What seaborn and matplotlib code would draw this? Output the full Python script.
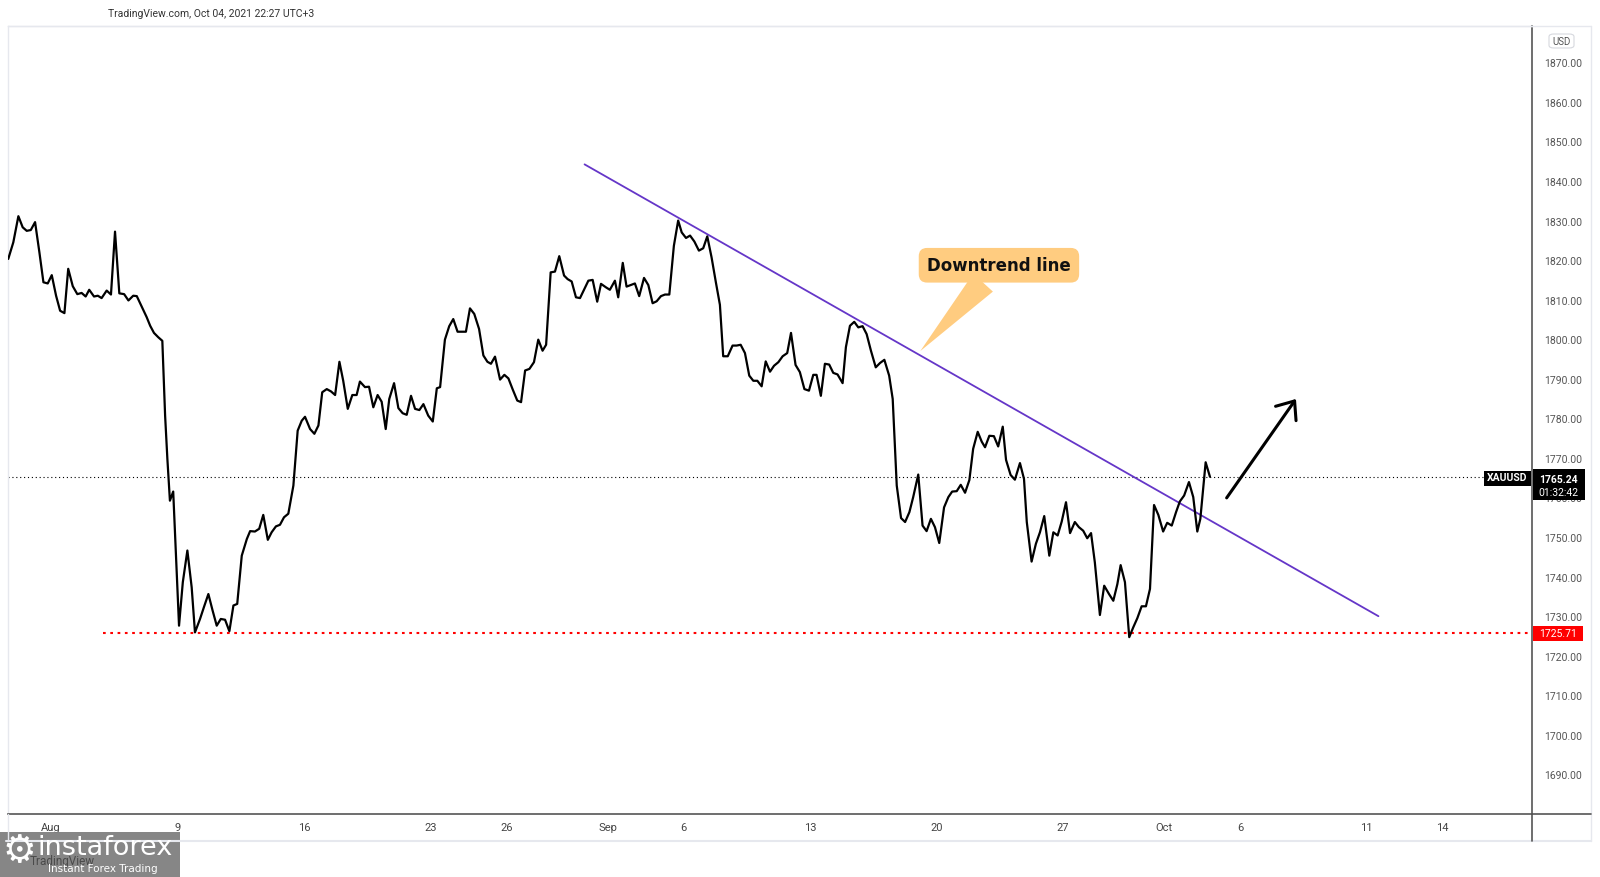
import matplotlib
matplotlib.use("Agg")
import matplotlib.pyplot as plt
import matplotlib.transforms as mtransforms
from matplotlib.patches import Rectangle, FancyBboxPatch
from matplotlib.lines import Line2D
import pandas as pd
import seaborn as sns

# ---------------- data ----------------
# x = trading days since Mon Aug 2 2021 (weekends removed), y = XAUUSD price
days = [-1.69, -1.49, -1.29, -1.12, -0.96, -0.80, -0.63, -0.46, -0.30, -0.13,
        0.03, 0.20, 0.36, 0.53, 0.68, 0.86, 1.04, 1.21, 1.37, 1.51,
        1.70, 1.85, 2.00, 2.20, 2.37, 2.53, 2.70, 2.89, 3.06, 3.25,
        3.39, 3.58, 3.78, 3.92, 4.07, 4.24, 4.40, 4.51, 4.60, 4.70,
        4.83, 5.06, 5.21, 5.39, 5.56, 5.69, 5.89, 6.05, 6.22, 6.38,
        6.55, 6.71, 6.88, 7.05, 7.21, 7.36, 7.54, 7.74, 7.87, 8.06,
        8.23, 8.39, 8.57, 8.72, 8.89, 9.05, 9.21, 9.38, 9.58, 9.75,
        9.91, 10.04, 10.24, 10.41, 10.57, 10.72, 10.90, 11.07, 11.23, 11.40,
        11.55, 11.73, 11.91, 12.08, 12.21, 12.41, 12.57, 12.74, 12.91, 13.07,
        13.23, 13.37, 13.56, 13.73, 13.90, 14.06, 14.23, 14.39, 14.56, 14.72,
        14.91, 15.09, 15.25, 15.38, 15.57, 15.74, 15.90, 16.07, 16.24, 16.40,
        16.56, 16.73, 16.92, 17.09, 17.25, 17.39, 17.55, 17.75, 17.92, 18.08,
        18.25, 18.43, 18.58, 18.74, 18.91, 19.09, 19.26, 19.43, 19.57, 19.75,
        19.92, 20.09, 20.28, 20.42, 20.58, 20.75, 20.91, 21.08, 21.24, 21.41,
        21.59, 21.74, 21.94, 22.09, 22.29, 22.42, 22.60, 22.75, 22.92, 23.08,
        23.25, 23.44, 23.61, 23.78, 23.94, 24.11, 24.27, 24.44, 24.62, 24.79,
        24.93, 25.10, 25.26, 25.43, 25.61, 25.78, 25.94, 26.11, 26.28, 26.44,
        26.57, 26.75, 26.94, 27.10, 27.26, 27.43, 27.60, 27.76, 27.92, 28.09,
        28.25, 28.42, 28.58, 28.75, 28.92, 29.10, 29.25, 29.43, 29.60, 29.78,
        29.96, 30.13, 30.26, 30.43, 30.59, 30.76, 30.92, 31.09, 31.29, 31.42,
        31.58, 31.75, 31.91, 32.08, 32.24, 32.41, 32.60, 32.77, 32.94, 33.13,
        33.27, 33.43, 33.60, 33.76, 33.93, 34.08, 34.28, 34.45, 34.61, 34.78,
        34.94, 35.11, 35.30, 35.47, 35.62, 35.80, 35.96, 36.13, 36.30, 36.45,
        36.63, 36.79, 36.92, 37.09, 37.27, 37.44, 37.62, 37.75, 37.93, 38.10,
        38.30, 38.46, 38.57, 38.76, 38.93, 39.09, 39.26, 39.46, 39.62, 39.79,
        39.95, 40.12, 40.28, 40.47, 40.63, 40.80, 40.96, 41.11, 41.26, 41.46,
        41.63, 41.82, 41.99, 42.15, 42.28, 42.45, 42.62, 42.78, 42.94, 43.11,
        43.28, 43.44, 43.60, 43.77, 43.96, 44.12, 44.30, 44.47, 44.62, 44.79,
        44.98, 45.15, 45.31, 45.43, 45.64, 45.81]
prices = [1820.3, 1824.5, 1831.1, 1828.3, 1827.4, 1827.6, 1829.6, 1822.0, 1814.4, 1814.1,
          1816.2, 1811.0, 1807.2, 1806.6, 1817.8, 1813.4, 1811.4, 1811.7, 1810.8, 1812.5,
          1810.8, 1811.0, 1810.4, 1812.3, 1811.3, 1827.2, 1811.6, 1811.4, 1809.8, 1811.0,
          1810.9, 1808.3, 1805.6, 1803.4, 1801.6, 1800.5, 1799.6, 1780.7, 1769.7, 1759.2,
          1761.5, 1727.6, 1738.6, 1746.6, 1737.3, 1725.9, 1729.3, 1732.4, 1735.6, 1731.6,
          1727.6, 1729.3, 1729.1, 1726.2, 1732.7, 1733.1, 1745.3, 1749.5, 1751.5, 1751.4,
          1752.1, 1755.6, 1749.3, 1751.2, 1752.7, 1753.1, 1755.0, 1755.9, 1763.0, 1776.9,
          1779.4, 1780.4, 1777.3, 1776.1, 1778.2, 1786.6, 1787.4, 1786.8, 1785.9, 1794.3,
          1789.5, 1782.4, 1785.9, 1785.9, 1789.3, 1787.9, 1788.0, 1782.8, 1785.9, 1784.2,
          1777.3, 1784.9, 1788.9, 1782.6, 1781.3, 1780.9, 1785.7, 1782.4, 1782.1, 1783.6,
          1780.7, 1779.2, 1787.6, 1787.9, 1799.9, 1803.3, 1805.1, 1801.9, 1801.9, 1801.9,
          1807.8, 1806.4, 1802.6, 1795.9, 1794.3, 1793.8, 1795.6, 1789.8, 1791.0, 1790.1,
          1787.3, 1784.5, 1784.1, 1792.1, 1792.5, 1794.2, 1799.9, 1797.1, 1798.6, 1816.9,
          1817.1, 1821.0, 1816.1, 1815.2, 1814.6, 1810.6, 1810.4, 1812.7, 1814.8, 1815.0,
          1809.5, 1814.0, 1813.1, 1812.5, 1814.8, 1810.6, 1819.3, 1813.3, 1813.7, 1814.1,
          1810.9, 1815.5, 1813.7, 1809.1, 1809.6, 1810.9, 1811.3, 1811.3, 1823.6, 1830.0,
          1827.0, 1825.6, 1826.2, 1824.7, 1822.4, 1823.0, 1826.0, 1820.7, 1814.4, 1808.7,
          1795.7, 1795.7, 1798.4, 1798.4, 1798.6, 1796.5, 1790.8, 1789.5, 1789.5, 1788.1,
          1794.4, 1791.8, 1793.3, 1794.2, 1795.7, 1796.5, 1801.6, 1793.5, 1791.7, 1787.4,
          1787.0, 1791.0, 1791.0, 1785.7, 1793.8, 1793.6, 1791.5, 1791.1, 1788.9, 1798.0,
          1803.4, 1804.4, 1803.0, 1803.3, 1801.3, 1797.1, 1792.9, 1794.0, 1794.8, 1790.8,
          1784.9, 1763.0, 1754.8, 1753.8, 1756.3, 1760.1, 1765.8, 1752.9, 1751.5, 1754.6,
          1752.5, 1748.5, 1757.5, 1760.1, 1761.5, 1761.6, 1763.2, 1761.2, 1764.4, 1772.3,
          1776.6, 1774.1, 1772.7, 1775.6, 1775.5, 1772.9, 1777.9, 1769.5, 1765.7, 1764.5,
          1768.7, 1764.7, 1753.8, 1743.8, 1748.3, 1751.2, 1755.3, 1745.3, 1751.2, 1750.4,
          1753.9, 1758.8, 1751.0, 1753.8, 1752.5, 1751.6, 1749.7, 1751.0, 1743.6, 1730.3,
          1737.7, 1735.6, 1733.9, 1738.1, 1742.9, 1738.6, 1724.7, 1727.2, 1729.5, 1732.5,
          1732.5, 1736.9, 1758.1, 1755.6, 1751.4, 1753.6, 1752.9, 1756.3, 1759.0, 1760.5,
          1763.9, 1760.1, 1751.4, 1754.6, 1768.9, 1765.24]

tick_days = [0, 5, 10, 15, 18, 22, 25, 30, 35, 40, 44, 47, 52, 55]
tick_labels = ["Aug", "9", "16", "23", "26", "Sep", "6", "13", "20", "27", "Oct", "6", "11", "14"]
price_ticks = [1690, 1700, 1710, 1720, 1730, 1740, 1750, 1760, 1770, 1780,
               1790, 1800, 1810, 1820, 1830, 1840, 1850, 1860, 1870]

trend_days = [21.09, 52.47]
trend_prices = [1844.2, 1730.0]
support_level = 1725.71
support_start = 2.06
last_price = 1765.24
countdown = "01:32:42"
symbol = "XAUUSD"
arrow_days = [46.47, 49.21]
arrow_prices = [1759.9, 1784.9]
callout_text = "Downtrend line"
callout_xy = (34.36, 1797.0)
callout_text_xy = (37.47, 1818.7)
header = "TradingView.com, Oct 04, 2021 22:27 UTC+3"

# ---------------- style ----------------
sns.set_style("white")
plt.rcParams['font.family'] = ['Roboto', 'DejaVu Sans']

W, H = 1600, 878
fig = plt.figure(figsize=(W / 100, H / 100), dpi=100)
fig.patch.set_facecolor("white")


def fx(px):
    return px / W


def fy(py):
    return 1 - py / H


L, R, T, B = 7.5, 1532, 26.5, 815
ax = fig.add_axes([fx(L), fy(B), fx(R) - fx(L), fy(T) - fy(B)])
ax.set_facecolor("white")

df = pd.DataFrame({"day": days, "price": prices})
sns.lineplot(data=df, x="day", y="price", ax=ax, sort=False, estimator=None,
             color="black", lw=1.6, zorder=4)

ax.set_xlim(-1.72, 58.54)
ax.set_ylim(1680.0, 1879.3)

# trend line
sns.lineplot(x=trend_days, y=trend_prices, ax=ax, color="#6536c8", lw=1.3,
             estimator=None, sort=False, zorder=3)

# support (red dotted)
ax.plot([support_start, 58.54], [support_level, support_level], color="#ff0000",
        lw=1.5, ls=(0, (1.3, 2.2)), zorder=3)

# last price dotted line
ax.axhline(last_price, color="black", lw=0.8, ls=(0, (1, 2.5)), zorder=2)

# arrow
ax.annotate("", xy=(arrow_days[1], arrow_prices[1]), xytext=(arrow_days[0], arrow_prices[0]),
            arrowprops=dict(arrowstyle="->,head_length=0.55,head_width=0.45",
                            color="black", lw=2.2, mutation_scale=20,
                            shrinkA=0, shrinkB=0), zorder=5)

# callout
ax.annotate(callout_text, xy=callout_xy, xytext=callout_text_xy,
            ha="center", va="center", fontsize=12, fontweight="bold",
            family=["DejaVu Sans"], color="#111111",
            bbox=dict(boxstyle="round,pad=0.5,rounding_size=0.5", fc="#FFCC80", ec="none"),
            arrowprops=dict(arrowstyle="wedge,tail_width=1.6,shrink_factor=0.5",
                            fc="#FFCC80", ec="none", shrinkA=0, shrinkB=0),
            zorder=6)

# axes cosmetics
ax.set_xticks(tick_days)
ax.set_xticklabels(tick_labels)
ax.set_yticks(price_ticks)
ax.set_yticklabels([f"{v:.2f}" for v in price_ticks])
ax.yaxis.tick_right()
ax.tick_params(axis="x", length=0, pad=6, labelsize=8, labelcolor="#444444")
ax.tick_params(axis="y", length=0, pad=9, labelsize=7.5, labelcolor="#555555")
ax.set_xlabel("")
ax.set_ylabel("")
ax.grid(False)
for s in ["top", "left"]:
    ax.spines[s].set_color("#e6e8ee")
    ax.spines[s].set_linewidth(1)
for s in ["bottom", "right"]:
    ax.spines[s].set_color("#555555")
    ax.spines[s].set_linewidth(1.2)

# price-scale labels
blend = mtransforms.blended_transform_factory(ax.transAxes, ax.transData)
aw = R - L


def axx(px):
    return (px - L) / aw


# symbol label left of the scale
ax.add_patch(Rectangle((axx(1484), 1762.8), axx(1530.5) - axx(1484), 4.0,
                       transform=blend, fc="black", ec="none", clip_on=False, zorder=10))
ax.text(axx(1507), last_price, symbol, transform=blend, ha="center", va="center",
        color="white", fontsize=7.5, fontweight="bold", zorder=11, clip_on=False)

# last price box
ax.add_patch(Rectangle((axx(1532.5), 1759.4), axx(1585) - axx(1532.5), 7.8,
                       transform=blend, fc="black", ec="none", clip_on=False, zorder=10))
ax.text(axx(1558.5), 1764.7, f"{last_price:.2f}", transform=blend, ha="center", va="center",
        color="white", fontsize=7.5, fontweight="bold", zorder=11, clip_on=False)
ax.text(axx(1558.5), 1761.3, countdown, transform=blend, ha="center", va="center",
        color="white", fontsize=7.5, zorder=11, clip_on=False)

# support price box
ax.add_patch(Rectangle((axx(1532.5), 1723.8), axx(1583.5) - axx(1532.5), 3.8,
                       transform=blend, fc="#ff0000", ec="none", clip_on=False, zorder=10))
ax.text(axx(1558), support_level, f"{support_level:.2f}", transform=blend, ha="center",
        va="center", color="white", fontsize=7.5, zorder=11, clip_on=False)

# USD box
fig.patches.append(FancyBboxPatch((fx(1549), fy(49)), fx(1574) - fx(1549), fy(35) - fy(49),
                                  boxstyle="round,pad=0,rounding_size=0.003",
                                  transform=fig.transFigure, fc="white", ec="#d6d8de", lw=0.8))
fig.text(fx(1561.5), fy(42), "USD", ha="center", va="center", fontsize=7, color="#555555")

# widget frame
for (x0, y0, x1, y1, c, lw) in [
    (L, 26.5, 1591, 26.5, "#e6e8ee", 1.0),
    (1591, 26.5, 1591, 842, "#e6e8ee", 1.0),
    (6, 842, 1591, 842, "#e6e8ee", 1.5),
    (L, 815, L, 842, "#e6e8ee", 1.0),
    (R, 815, R, 842, "#555555", 1.2),
    (R, 815, 1591, 815, "#555555", 1.2),
]:
    fig.add_artist(Line2D([fx(x0), fx(x1)], [fy(y0), fy(y1)], transform=fig.transFigure,
                          color=c, lw=lw))

# header
fig.text(fx(108), fy(14), header, ha="left", va="center", fontsize=7.5, color="#333333")

# watermark (faint TradingView logo text shows through the grey box)
fig.text(fx(30), fy(862), "TradingView", ha="left", va="center", fontsize=8.5,
         color="#222222", alpha=0.6)
fig.patches.append(Rectangle((0, 0), fx(180), fy(833), transform=fig.transFigure,
                             fc="#808080", ec="none", alpha=0.95))
fig.text(fx(19), fy(852), "\u2699", ha="center", va="center", fontsize=27, color="white",
         family=["DejaVu Sans"])
fig.text(fx(38), fy(848), "instaforex", ha="left", va="center", fontsize=19.5, color="white",
         family=["DejaVu Sans"])
fig.text(fx(48), fy(869), "Instant Forex Trading", ha="left", va="center", fontsize=7.5,
         color="white", family=["DejaVu Sans"])

fig.savefig("out.png", dpi=100, facecolor="white")
